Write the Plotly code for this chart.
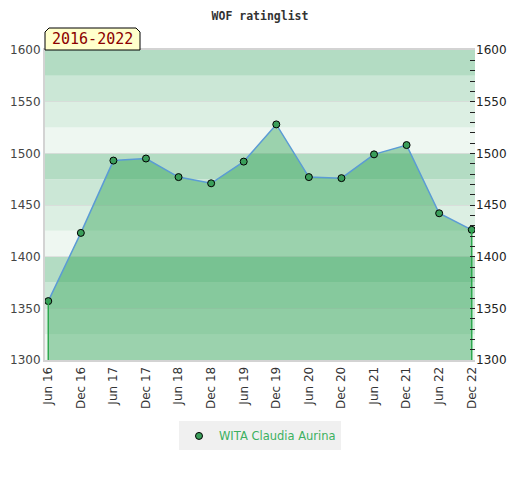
import plotly.graph_objects as go

# data
periods = ["Jun 16", "Dec 16", "Jun 17", "Dec 17", "Jun 18", "Dec 18", "Jun 19",
           "Dec 19", "Jun 20", "Dec 20", "Jun 21", "Dec 21", "Jun 22", "Dec 22"]
ratings = [1357, 1423, 1493, 1495, 1477, 1471, 1492,
           1528, 1477, 1476, 1499, 1508, 1442, 1426]
player = "WITA Claudia Aurina"
period_label = "2016-2022"
y_min, y_max = 1300, 1600

# band colours, repeated every 100 points (bottom -> top)
band_colors = ["#eef7f1", "#dcefe3", "#cbe7d6", "#b3dcc3"]

# page body has an 8px margin, so the figure is a bit smaller
W, H = 504, 464
ML, MR, MT, MB = 37, 37, 42, 112
PW, PH = W - ML - MR, H - MT - MB

fig = go.Figure()

# filled area + line + markers
fig.add_trace(go.Scatter(
    x=periods, y=ratings,
    mode="lines+markers",
    name=player,
    fill="tozeroy",
    fillcolor="rgba(36,159,75,0.41)",
    line=dict(color="#5b9bd5", width=1.5),
    marker=dict(color="#3a9e5a", size=7, line=dict(color="black", width=1)),
    showlegend=False,
))

# vertical edges of the area
for i in (0, -1):
    fig.add_trace(go.Scatter(
        x=[periods[i], periods[i]], y=[ratings[i], y_min],
        mode="lines", line=dict(color="#2ea84f", width=1.5),
        showlegend=False, hoverinfo="skip",
    ))

# legend entry (marker only)
fig.add_trace(go.Scatter(
    x=[None], y=[None], mode="markers", name=player,
    marker=dict(color="#3a9e5a", size=7, line=dict(color="black", width=1)),
))

# invisible trace for the right axis
fig.add_trace(go.Scatter(x=[periods[0]], y=[ratings[0]], yaxis="y2",
                         mode="markers", marker=dict(opacity=0),
                         showlegend=False, hoverinfo="skip"))

shapes = []
for k, lo in enumerate(range(y_min, y_max, 25)):
    shapes.append(dict(type="rect", xref="paper", x0=0, x1=1, yref="y",
                       y0=lo, y1=lo + 25, fillcolor=band_colors[k % 4],
                       line=dict(width=0), layer="below"))

# label box with clipped top corners
bw, bh, c = 95, 22, 4
px = lambda v: v / PW
py = lambda v: 1 + v / PH
shapes.append(dict(
    type="path", xref="paper", yref="paper",
    path=(f"M 0,1 L 0,{py(bh - c)} L {px(c)},{py(bh)} L {px(bw - c)},{py(bh)} "
          f"L {px(bw)},{py(bh - c)} L {px(bw)},1 Z"),
    fillcolor="#ffffcc", line=dict(color="black", width=1), layer="above",
))

fig.update_layout(
    width=W, height=H,
    margin=dict(l=ML, r=MR, t=MT, b=MB),
    paper_bgcolor="white",
    plot_bgcolor="white",
    shapes=shapes,
    title=dict(text="<b>WOF ratinglist</b>", x=0.5, xanchor="center",
               y=1 - 8 / H, yanchor="middle",
               font=dict(family="DejaVu Sans Mono", size=11.5, color="#333333")),
    xaxis=dict(
        type="category",
        range=[-0.1, len(periods) - 1 + 0.1],
        tickangle=-90,
        tickfont=dict(family="DejaVu Sans", size=12, color="#333333"),
        showgrid=False,
        showline=True, linecolor="#d3d3d3", linewidth=2, mirror=True,
        ticks="", automargin=False,
    ),
    yaxis=dict(
        range=[y_min, y_max],
        dtick=50,
        tickfont=dict(family="DejaVu Sans", size=12, color="#444444"),
        showgrid=True, gridcolor="rgba(215,215,215,0.7)", gridwidth=1,
        zeroline=False,
        showline=True, linecolor="#d3d3d3", linewidth=2,
        ticks="", automargin=False,
        layer="above traces",
    ),
    yaxis2=dict(
        range=[y_min, y_max],
        overlaying="y", side="right",
        dtick=50,
        tickfont=dict(family="DejaVu Sans", size=12, color="#222222"),
        ticks="inside", ticklen=5, tickcolor="#222222",
        minor=dict(dtick=10, ticks="inside", ticklen=5, tickcolor="#222222"),
        showgrid=False, zeroline=False, automargin=False,
    ),
    legend=dict(
        orientation="h", x=0.5, xanchor="center", y=-0.245, yanchor="middle",
        bgcolor="#f0f0f0",
        font=dict(family="DejaVu Sans", size=11.5, color="#3cb060"),
    ),
    annotations=[dict(
        text=period_label, xref="paper", yref="paper",
        x=px(bw / 2), y=py(bh / 2), xanchor="center", yanchor="middle",
        showarrow=False,
        font=dict(family="DejaVu Sans Mono", size=15, color="#8b0000"),
    )],
)

fig.write_html("out.html")
